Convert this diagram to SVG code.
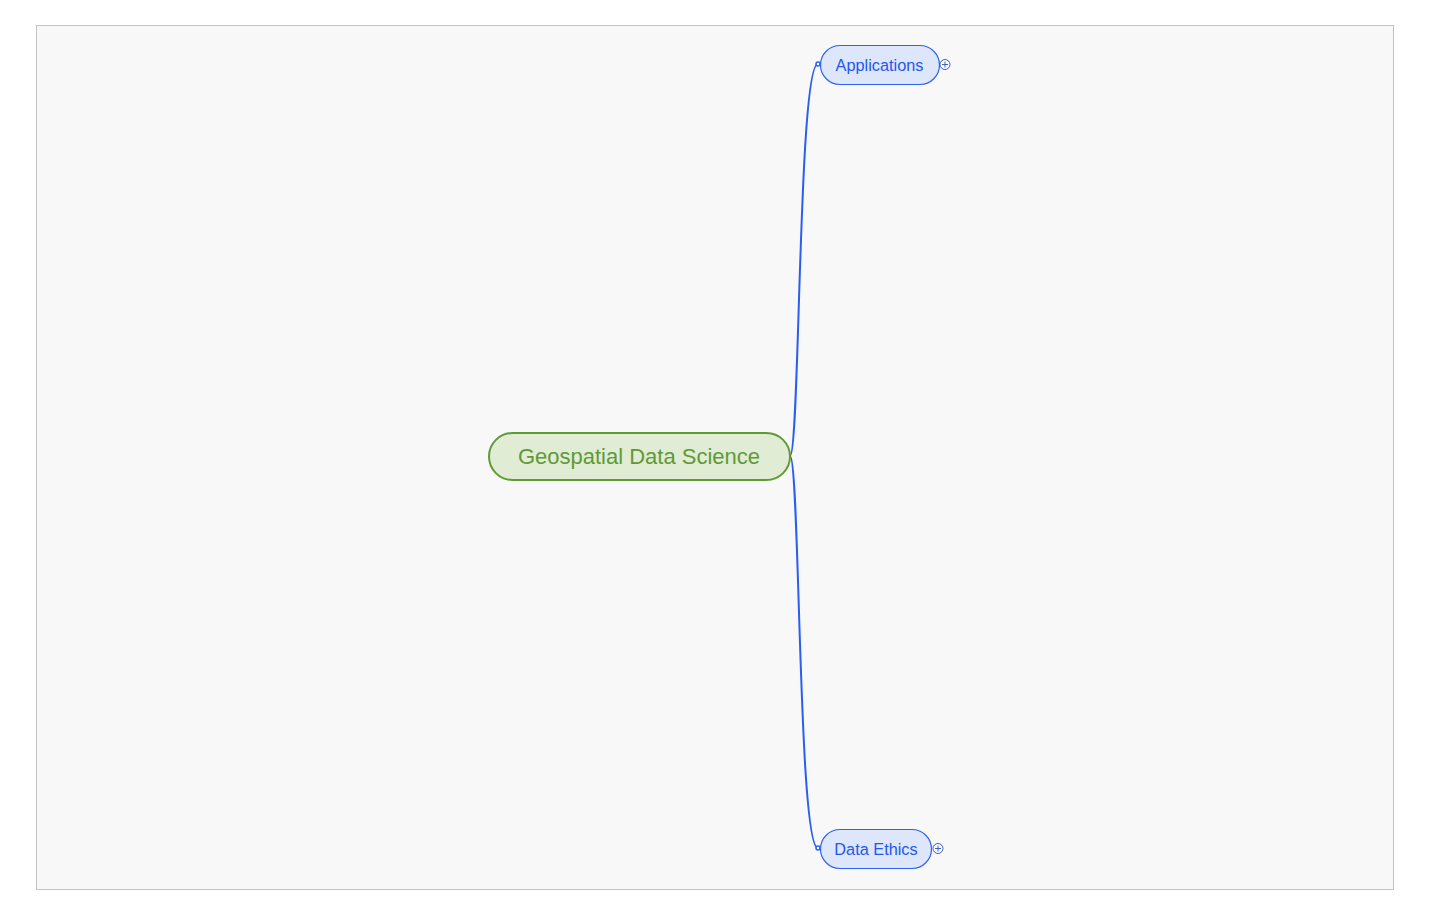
<svg xmlns="http://www.w3.org/2000/svg" width="1431" height="914" viewBox="0 0 1431 914">
<style>
.frame{fill:#f8f8f8;stroke:#c4c4c8;stroke-width:1}
.root rect{fill:#e1ecd5;stroke:#5f9a36;stroke-width:2}
.root text{fill:#5f9a36;font-family:"Liberation Sans",Arial,sans-serif;font-size:22px;text-anchor:middle;dominant-baseline:central}
.topic rect{fill:#dde6fb;stroke:#2e62f2;stroke-width:1.2}
.topic text{fill:#2457ee;font-family:"Liberation Sans",Arial,sans-serif;font-size:16.3px;text-anchor:middle;dominant-baseline:central}
.plus circle{fill:#ffffff;stroke:#3a5fc8;stroke-width:1}
.plus path{stroke:#3a5fc8;stroke-width:1;fill:none}
.conn path{fill:none;stroke:#2a5ef0;stroke-width:2}
.conn circle{fill:#ffffff;stroke:#2a5ef0;stroke-width:1.5}
</style>
<rect class="frame" x="36.5" y="25.5" width="1357" height="864"/>
<g id="connectors" class="conn">
<path d="M790,456 C800,456 798,64 818,64"/>
<path d="M790,456 C800,456 798,848 818,848"/>
<circle cx="818" cy="64" r="2"/>
<circle cx="818" cy="848" r="2"/>
</g>
<g id="root" class="root">
<rect x="489" y="433" width="301" height="47" rx="23.5"/>
<text x="639" y="456">Geospatial Data Science</text>
</g>
<g id="applications" class="topic">
<rect x="820.5" y="45.5" width="119" height="39" rx="19.5"/>
<text x="879.5" y="64.5">Applications</text>
</g>
<g id="applications-toggle" class="plus">
<circle cx="945" cy="64.5" r="5"/>
<path d="M942,64.5 H948 M945,61.5 V67.5"/>
</g>
<g id="data-ethics" class="topic">
<rect x="820.5" y="829.5" width="111" height="39" rx="19.5"/>
<text x="876" y="848.5">Data Ethics</text>
</g>
<g id="data-ethics-toggle" class="plus">
<circle cx="938" cy="848.5" r="5"/>
<path d="M935,848.5 H941 M938,845.5 V851.5"/>
</g>
</svg>
